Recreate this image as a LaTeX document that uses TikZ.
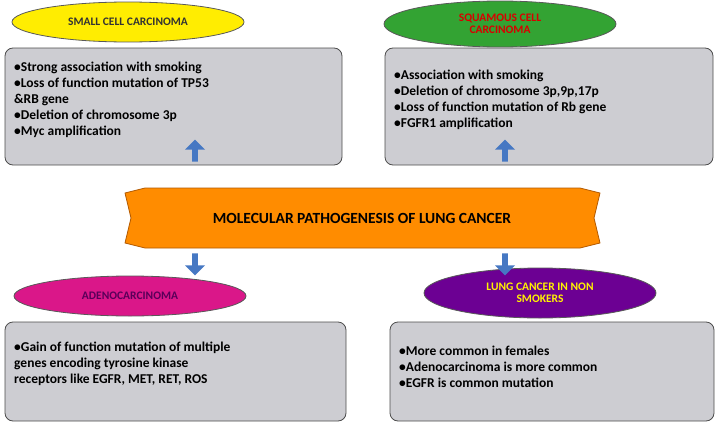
\documentclass[tikz,border=0pt]{standalone}
\usepackage{fontspec}
\setmainfont{Carlito}
\usetikzlibrary{shapes.geometric,shapes.arrows}
\definecolor{boxgray}{RGB}{205,205,210}
\definecolor{arrowblue}{RGB}{70,120,195}
\begin{document}
\begin{tikzpicture}[x=1pt,y=-1pt,
  title/.style={ellipse,draw=gray!70!black,line width=0.8pt,minimum width=232pt,minimum height=40pt,font=\bfseries\fontsize{11.5}{12.5}\selectfont,align=center},
  panel/.style={draw=gray!60!black,fill=boxgray,rounded corners=8pt,line width=0.8pt},
  info/.style={align=left,anchor=north west,inner sep=4pt,font=\bfseries\fontsize{13.5}{16}\selectfont},
  blockarrow/.style={single arrow,fill=arrowblue,minimum width=20pt,minimum height=22pt,single arrow head extend=3pt,inner sep=1pt}]
\useasboundingbox (0,0) rectangle (720,431);
% boxes
\draw[panel] (5,48) rectangle (342,165);
\node[info] (smalltxt) at (10,58) {•Strong association with smoking\\•Loss of function mutation of TP53\\\&RB gene\\•Deletion of chromosome 3p\\•Myc amplification};
\draw[panel] (385,48) rectangle (713,165);
\node[info] (squamtxt) at (390,66) {•Association with smoking\\•Deletion of chromosome 3p,9p,17p\\•Loss of function mutation of Rb gene\\•FGFR1 amplification};
\draw[panel] (5,322) rectangle (346,421);
\node[info] (adenotxt) at (10,338) {•Gain of function mutation of multiple\\genes encoding tyrosine kinase\\receptors like EGFR, MET, RET, ROS};
\draw[panel] (390,322) rectangle (714,421);
\node[info] (nonsmktxt) at (395,342) {•More common in females\\•Adenocarcinoma is more common\\•EGFR is common mutation};
% titles
\node[title,fill=yellow!95!orange,text=black!80] (small) at (128,22) {SMALL CELL CARCINOMA};
\node[title,fill=green!55!black!80,minimum height=46pt,text=red!85!black] (squam) at (500,24) {SQUAMOUS CELL\\CARCINOMA};
\node[title,fill=magenta!80!violet,text=violet!70!black] (adeno) at (130,296) {ADENOCARCINOMA};
\node[title,fill=violet!85!blue,minimum height=50pt,text=yellow] (nonsmk) at (540,293) {LUNG CANCER IN NON\\SMOKERS};
% center banner
\draw[draw=orange!70!black,fill=orange!90!yellow,line width=0.8pt] (125,193) -- (145,188) -- (580,188) -- (600,193) -- (594,218) -- (600,243) -- (580,248) -- (145,248) -- (125,243) -- (131,218) -- cycle;
\node[font=\bfseries\fontsize{15.5}{17}\selectfont] (center) at (362,218) {MOLECULAR PATHOGENESIS OF LUNG CANCER};
% arrows
\node[blockarrow,rotate=90] (upl) at (195,152) {};
\node[blockarrow,rotate=90] (upr) at (505,152) {};
\node[blockarrow,rotate=-90] (dnl) at (195,263) {};
\node[blockarrow,rotate=-90] (dnr) at (505,263) {};
\end{tikzpicture}
\end{document}
